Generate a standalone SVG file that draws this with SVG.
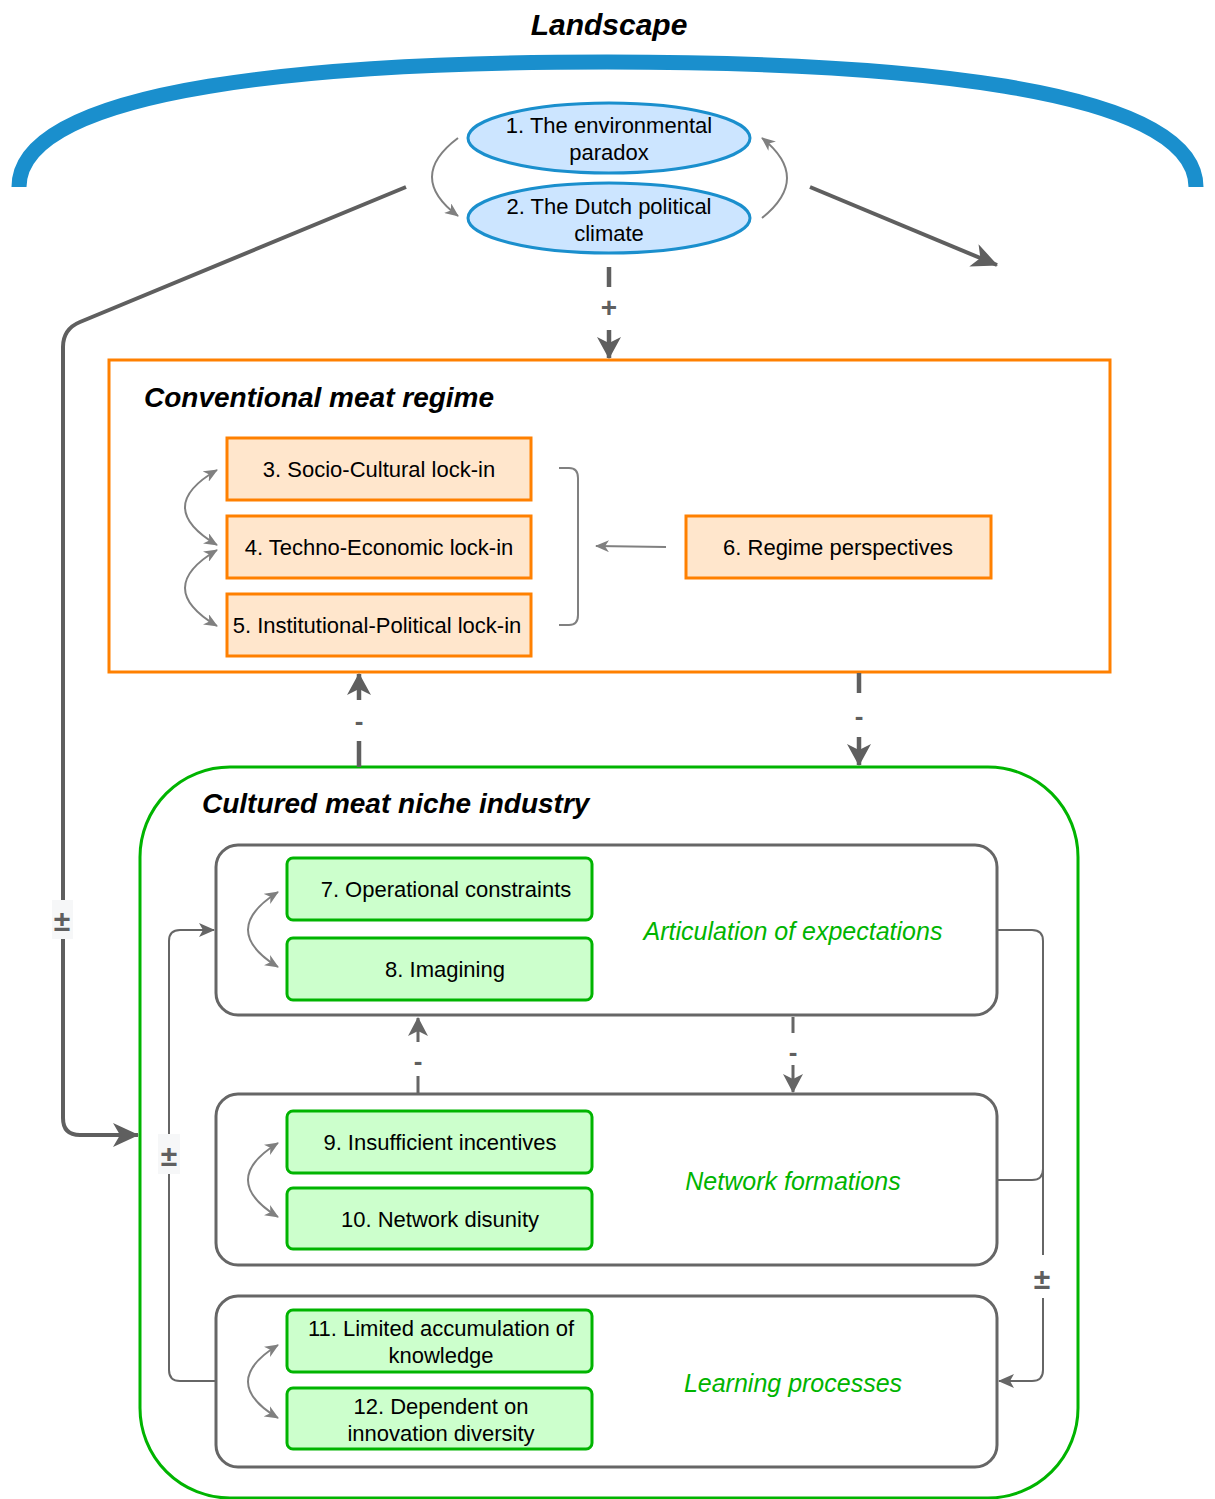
<svg xmlns="http://www.w3.org/2000/svg" width="1215" height="1499" viewBox="0 0 1215 1499">
  <style>
    text { font-family: "Liberation Sans", Arial, sans-serif; fill: #000; }
    .title { font-weight: bold; font-style: italic; font-size: 28px; }
    .node { font-size: 22px; text-anchor: middle; }
    .phase { font-size: 25px; font-style: italic; fill: #00b400; text-anchor: middle; }
    .lbl { font-size: 26px; font-weight: bold; fill: #5f5f5f; text-anchor: middle; }
    .pm { font-size: 30px; }
    .ell { fill: #cce5ff; stroke: #1a8fcd; stroke-width: 3; }
    .reg { fill: #ffe6cc; stroke: #ff8000; stroke-width: 3; }
    .nic { fill: #ccffcc; stroke: #00b400; stroke-width: 3; }
    .grp { fill: none; stroke: #666; stroke-width: 3; }
    .thick { fill: none; stroke: #5f5f5f; stroke-width: 4; }
    .dash { fill: none; stroke: #5f5f5f; stroke-width: 4.5; }
    .dash2 { fill: none; stroke: #666; stroke-width: 3; }
    .thin { fill: none; stroke: #666; stroke-width: 2; }
    .curve { fill: none; stroke: #808080; stroke-width: 2; }
  </style>
  <defs>
    <marker id="mDark" markerUnits="userSpaceOnUse" viewBox="0 0 26 24" markerWidth="26" markerHeight="24" refX="25" refY="12" orient="auto">
      <path d="M0,0 L26,12 L0,24 L7,12 z" fill="#5f5f5f"/>
    </marker>
    <marker id="mDash" markerUnits="userSpaceOnUse" viewBox="0 0 22 24" markerWidth="22" markerHeight="24" refX="21" refY="12" orient="auto">
      <path d="M0,0 L22,12 L0,24 L6,12 z" fill="#5f5f5f"/>
    </marker>
    <marker id="mDash2" markerUnits="userSpaceOnUse" viewBox="0 0 19 20" markerWidth="19" markerHeight="20" refX="18" refY="10" orient="auto">
      <path d="M0,0 L19,10 L0,20 L5,10 z" fill="#666"/>
    </marker>
    <marker id="mThin" markerUnits="userSpaceOnUse" viewBox="0 0 16 14" markerWidth="16" markerHeight="14" refX="15" refY="7" orient="auto">
      <path d="M0,0 L16,7 L0,14 L4,7 z" fill="#666"/>
    </marker>
    <marker id="mGray" markerUnits="userSpaceOnUse" viewBox="0 0 14 12" markerWidth="14" markerHeight="12" refX="13" refY="6" orient="auto-start-reverse">
      <path d="M0,0 L14,6 L0,12 L4,6 z" fill="#808080"/>
    </marker>
  </defs>

  <rect width="1215" height="1499" fill="#fff"/>

  <!-- Landscape -->
  <g id="landscape">
    <text class="title" x="609" y="35" style="font-size:30px" text-anchor="middle">Landscape</text>
    <path d="M 19 187 C 19 85, 330 62, 607 62 C 884 62, 1196 85, 1196 187" fill="none" stroke="#1a8fcd" stroke-width="15"/>
  </g>

  <g id="node1">
    <ellipse class="ell" cx="609" cy="138" rx="141" ry="35"/>
    <text class="node" x="609" y="133">1. The environmental</text>
    <text class="node" x="609" y="160">paradox</text>
  </g>
  <g id="node2">
    <ellipse class="ell" cx="609" cy="218" rx="141" ry="35"/>
    <text class="node" x="609" y="214">2. The Dutch political</text>
    <text class="node" x="609" y="241">climate</text>
  </g>

  <!-- Regime -->
  <g id="regime">
    <rect x="109" y="360" width="1001" height="312" fill="#fff" stroke="#ff8000" stroke-width="3"/>
    <text class="title" x="144" y="407">Conventional meat regime</text>
  </g>
  <g id="node3">
    <rect class="reg" x="227" y="438" width="304" height="62"/>
    <text class="node" x="379" y="477">3. Socio-Cultural lock-in</text>
  </g>
  <g id="node4">
    <rect class="reg" x="227" y="516" width="304" height="62"/>
    <text class="node" x="379" y="555">4. Techno-Economic lock-in</text>
  </g>
  <g id="node5">
    <rect class="reg" x="227" y="594" width="304" height="62"/>
    <text class="node" x="377" y="633">5. Institutional-Political lock-in</text>
  </g>
  <g id="node6">
    <rect class="reg" x="686" y="516" width="305" height="62"/>
    <text class="node" x="838" y="555">6. Regime perspectives</text>
  </g>

  <!-- Niche -->
  <g id="niche">
    <rect x="140" y="767" width="938" height="731" rx="90" fill="#fff" stroke="#00b400" stroke-width="3"/>
    <text class="title" x="202" y="813">Cultured meat niche industry</text>
  </g>
  <g id="articulation">
    <rect class="grp" x="216" y="845" width="781" height="170" rx="22"/>
    <text class="phase" x="793" y="940">Articulation of expectations</text>
  </g>
  <g id="network">
    <rect class="grp" x="216" y="1094" width="781" height="171" rx="22"/>
    <text class="phase" x="793" y="1190">Network formations</text>
  </g>
  <g id="learning">
    <rect class="grp" x="216" y="1296" width="781" height="171" rx="22"/>
    <text class="phase" x="793" y="1392">Learning processes</text>
  </g>

  <g id="node7">
    <rect class="nic" x="287" y="858" width="305" height="62" rx="6"/>
    <text class="node" x="446" y="897">7. Operational constraints</text>
  </g>
  <g id="node8">
    <rect class="nic" x="287" y="938" width="305" height="62" rx="6"/>
    <text class="node" x="445" y="977">8. Imagining</text>
  </g>
  <g id="node9">
    <rect class="nic" x="287" y="1111" width="305" height="62" rx="6"/>
    <text class="node" x="440" y="1150">9. Insufficient incentives</text>
  </g>
  <g id="node10">
    <rect class="nic" x="287" y="1188" width="305" height="61" rx="6"/>
    <text class="node" x="440" y="1227">10. Network disunity</text>
  </g>
  <g id="node11">
    <rect class="nic" x="287" y="1310" width="305" height="62" rx="6"/>
    <text class="node" x="441" y="1336">11. Limited accumulation of</text>
    <text class="node" x="441" y="1363">knowledge</text>
  </g>
  <g id="node12">
    <rect class="nic" x="287" y="1388" width="305" height="61" rx="6"/>
    <text class="node" x="441" y="1414">12. Dependent on</text>
    <text class="node" x="441" y="1441">innovation diversity</text>
  </g>

  <!-- Connectors -->
  <g id="connectors">
    <!-- landscape influences -->
    <path class="thick" d="M 406 187 L 80 322 Q 63 329 63 347 L 63 1118 Q 63 1135 80 1135 L 138 1135" marker-end="url(#mDark)"/>
    <path class="thick" d="M 810 187 L 997 265" marker-end="url(#mDark)"/>
    <path class="curve" d="M 458 138 Q 406 177 458 216" marker-end="url(#mGray)"/>
    <path class="curve" d="M 762 218 Q 812 178 762 138" marker-end="url(#mGray)"/>
    <path class="dash" style="stroke-dasharray:20 43 40" d="M 609 267 L 609 358" marker-end="url(#mDash)"/>

    <!-- regime internals -->
    <path class="curve" d="M 217 470 Q 153 507 217 545" marker-start="url(#mGray)" marker-end="url(#mGray)"/>
    <path class="curve" d="M 217 550 Q 153 588 217 626" marker-start="url(#mGray)" marker-end="url(#mGray)"/>
    <path class="curve" d="M 559 468 L 569 468 Q 578 468 578 478 L 578 615 Q 578 625 569 625 L 559 625"/>
    <path class="curve" d="M 666 547 L 596 546" marker-end="url(#mGray)"/>

    <!-- regime / niche -->
    <path class="dash" style="stroke-dasharray:26 41 40" d="M 359 767 L 359 674" marker-end="url(#mDash)"/>
    <path class="dash" style="stroke-dasharray:20 44 40" d="M 859 673 L 859 765" marker-end="url(#mDash)"/>

    <!-- niche internals -->
    <path class="curve" d="M 278 892 Q 218 930 278 967" marker-start="url(#mGray)" marker-end="url(#mGray)"/>
    <path class="curve" d="M 278 1143 Q 218 1180 278 1217" marker-start="url(#mGray)" marker-end="url(#mGray)"/>
    <path class="curve" d="M 278 1345 Q 218 1382 278 1418" marker-start="url(#mGray)" marker-end="url(#mGray)"/>
    <path class="dash2" style="stroke-dasharray:17 34 40" d="M 418 1093 L 418 1018" marker-end="url(#mDash2)"/>
    <path class="dash2" style="stroke-dasharray:16 32 40" d="M 793 1017 L 793 1092" marker-end="url(#mDash2)"/>

    <!-- feedback loops -->
    <path class="thin" d="M 216 1381 L 180 1381 Q 169 1381 169 1370 L 169 941 Q 169 930 180 930 L 214 930" marker-end="url(#mThin)"/>
    <path class="thin" d="M 997 930 L 1032 930 Q 1043 930 1043 941 L 1043 1370 Q 1043 1381 1032 1381 L 999 1381" marker-end="url(#mThin)"/>
    <path class="thin" d="M 997 1180 L 1032 1180 Q 1043 1180 1043 1169"/>

    <!-- connector labels -->
    <text class="lbl" x="609" y="317" style="font-size:28px">+</text>
    <text class="lbl" x="359" y="730">-</text>
    <text class="lbl" x="859" y="725">-</text>
    <text class="lbl" x="418" y="1070">-</text>
    <text class="lbl" x="793" y="1061">-</text>
    <rect x="52" y="900" width="21" height="39" fill="#f6f7f8"/>
    <text class="lbl pm" x="62" y="931">±</text>
    <rect x="158" y="1134" width="22" height="40" fill="#f6f7f8"/>
    <text class="lbl pm" x="169" y="1166">±</text>
    <rect x="1031" y="1255" width="23" height="43" fill="#fff"/>
    <text class="lbl pm" x="1042" y="1289">±</text>
  </g>
</svg>
